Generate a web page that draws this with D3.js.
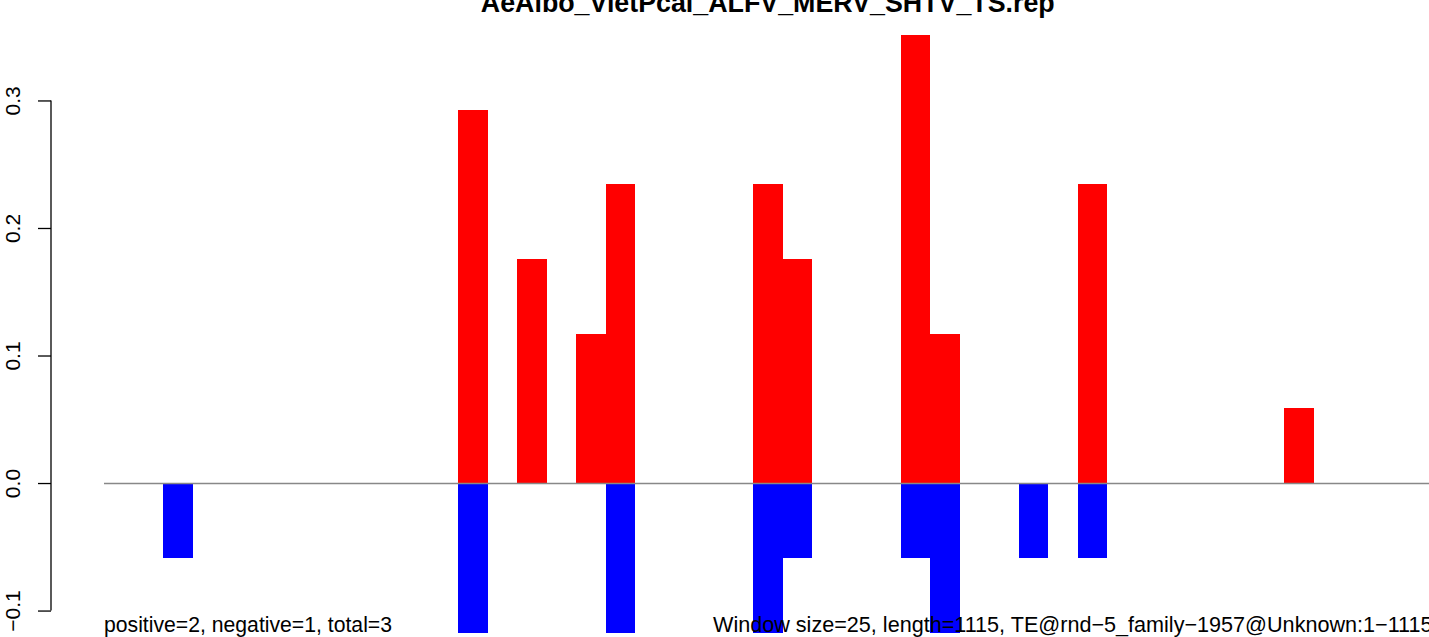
<!DOCTYPE html>
<html>
<head>
<meta charset="utf-8">
<script src="https://cdn.jsdelivr.net/npm/d3@7"></script>
<style>
  html, body { margin: 0; padding: 0; background: #fff; }
  svg { display: block; }
  text { font-family: "Liberation Sans", Arial, Helvetica, sans-serif; }
</style>
</head>
<body>
<svg id="chart" width="1429" height="637"></svg>
<script>
// ---- data ----
const titleText = "AeAlbo_VietPcal_ALFV_MERV_SHTV_TS.rep";
const leftNote = "positive=2, negative=1, total=3";
const rightNote = "Window size=25, length=1115, TE@rnd\u22125_family\u22121957@Unknown:1\u22121115";
const windowSize = 25;
const seqLength = 1115;
const binCount = 45;
// bin index (window number) and value for the positive (red) bars
const posBins   = [12, 14, 16, 17, 22, 23, 27, 28, 33, 40];
const posValues = [0.2925, 0.1757, 0.1168, 0.2345, 0.2345, 0.1757, 0.3515, 0.1168, 0.2345, 0.0588];
// bin index and value for the negative (blue) bars
const negBins   = [2, 12, 17, 22, 23, 27, 28, 31, 33];
const negValues = [-0.0588, -0.1176, -0.1176, -0.1176, -0.0588, -0.0588, -0.1176, -0.0588, -0.0588];
const yTicks = [-0.1, 0.0, 0.1, 0.2, 0.3];
const yTickLabels = ["\u22120.1", "0.0", "0.1", "0.2", "0.3"];
const yMin = -0.1176, yMax = 0.3529;

// ---- layout ----
const svg = d3.select("#chart");
const plotLeft = 104, plotTop = 33, plotBottom = 633;
const binWidthPx = 29.5;
const x = d3.scaleLinear()
  .domain([0, binCount * windowSize])
  .range([plotLeft, plotLeft + binCount * binWidthPx]);
const y = d3.scaleLinear().domain([yMin, yMax]).range([plotBottom, plotTop]);

const pos = posBins.map((b, i) => ({ bin: b, v: posValues[i] }));
const neg = negBins.map((b, i) => ({ bin: b, v: negValues[i] }));

// positive bars
svg.append("g").selectAll("rect").data(pos).join("rect")
  .attr("x", d => x(d.bin * windowSize))
  .attr("width", d => x((d.bin + 1) * windowSize) - x(d.bin * windowSize))
  .attr("y", d => y(d.v))
  .attr("height", d => y(0) - y(d.v))
  .attr("fill", "#ff0000")
  .attr("shape-rendering", "crispEdges");

// negative bars
svg.append("g").selectAll("rect").data(neg).join("rect")
  .attr("x", d => x(d.bin * windowSize))
  .attr("width", d => x((d.bin + 1) * windowSize) - x(d.bin * windowSize))
  .attr("y", y(0))
  .attr("height", d => y(d.v) - y(0))
  .attr("fill", "#0000ff")
  .attr("shape-rendering", "crispEdges");

// zero line
svg.append("line")
  .attr("x1", x(0)).attr("x2", x(binCount * windowSize))
  .attr("y1", Math.round(y(0)) + 0.5).attr("y2", Math.round(y(0)) + 0.5)
  .attr("stroke", "#888888").attr("stroke-width", 1.3);

// y axis
const axisX = 51;
const yAxis = d3.axisLeft(y).tickValues(yTicks).tickSize(13)
  .tickFormat((d, i) => yTickLabels[i]);
const ag = svg.append("g").attr("transform", `translate(${axisX},0)`).call(yAxis);
ag.select(".domain").remove();
ag.append("line")
  .attr("x1", 0).attr("x2", 0)
  .attr("y1", y(yTicks[0])).attr("y2", y(yTicks[yTicks.length - 1]))
  .attr("stroke", "#000").attr("stroke-width", 1.3);
ag.selectAll(".tick line").attr("stroke", "#000").attr("stroke-width", 1.3);
ag.selectAll(".tick text")
  .attr("x", null).attr("dy", null)
  .attr("transform", "translate(-31,0) rotate(-90)")
  .attr("text-anchor", "middle")
  .attr("fill", "#000")
  .style("font-size", "21px")
  .style("font-family", "'Liberation Sans', Arial, sans-serif");

// title
svg.append("text")
  .attr("x", (x(0) + x(binCount * windowSize)) / 2)
  .attr("y", 12)
  .attr("text-anchor", "middle")
  .style("font-size", "26.8px").style("font-weight", "bold")
  .text(titleText);

// bottom notes
svg.append("text")
  .attr("x", plotLeft).attr("y", 632)
  .style("font-size", "21.2px")
  .text(leftNote);
svg.append("text")
  .attr("x", x(binCount * windowSize) + 1).attr("y", 632)
  .attr("text-anchor", "end")
  .style("font-size", "21.6px")
  .text(rightNote);
</script>
</body>
</html>
